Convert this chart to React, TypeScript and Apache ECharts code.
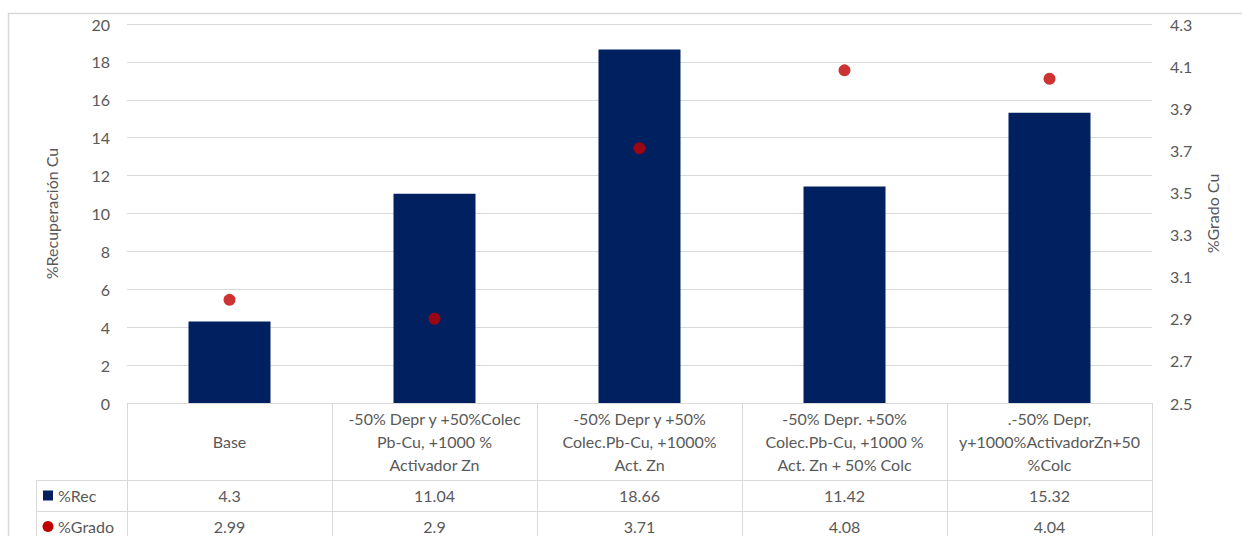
import React, { useEffect, useRef } from "react";
import * as echarts from "echarts";

// Flotation tests: copper recovery (bars) and copper grade (dots)
const categories = [
  "Base",
  "-50% Depr y +50%Colec\nPb-Cu, +1000 %\nActivador Zn",
  "-50% Depr y +50%\nColec.Pb-Cu, +1000%\nAct. Zn",
  "-50% Depr. +50%\nColec.Pb-Cu, +1000 %\nAct. Zn + 50% Colc",
  ".-50% Depr,\ny+1000%ActivadorZn+50\n%Colc",
];
const recValues = [4.3, 11.04, 18.66, 11.42, 15.32];
const gradoValues = [2.99, 2.9, 3.71, 4.08, 4.04];
const recLabels = ["4.3", "11.04", "18.66", "11.42", "15.32"];
const gradoLabels = ["2.99", "2.9", "3.71", "4.08", "4.04"];
const seriesNames = ["%Rec", "%Grado"];

const FONT = "Lato, 'Open Sans', sans-serif";
const TEXT = "#595959";
const LINE = "#d9d9d9";
const NAVY = "#002060";
const RED = "#c00000";

export default function App() {
  const ref = useRef<HTMLDivElement>(null);

  useEffect(() => {
    document.body.style.margin = "0";
    if (!ref.current) return;
    const chart = echarts.init(ref.current, null, { renderer: "svg" });

    chart.setOption({
      animation: false,
      textStyle: { fontFamily: FONT },
      grid: { left: 127, right: 90, top: 24, bottom: 133 },
      xAxis: {
        type: "category",
        data: categories,
        axisLabel: { show: false },
        axisTick: { show: false },
        axisLine: { show: true, lineStyle: { color: LINE, width: 1 } },
      },
      yAxis: [
        {
          type: "value",
          min: 0,
          max: 20,
          interval: 2,
          name: "%Recuperación Cu",
          nameLocation: "middle",
          nameRotate: 90,
          nameGap: 68,
          nameTextStyle: { color: TEXT, fontSize: 16, fontFamily: FONT },
          axisLine: { show: false },
          axisTick: { show: false },
          axisLabel: { color: TEXT, fontSize: 16, margin: 17, fontFamily: FONT },
          splitLine: { lineStyle: { color: LINE, width: 1 } },
        },
        {
          type: "value",
          min: 2.5,
          max: 4.3,
          interval: 0.2,
          position: "right",
          name: "%Grado Cu",
          nameLocation: "middle",
          nameRotate: 90,
          nameGap: 52,
          nameTextStyle: { color: TEXT, fontSize: 16, fontFamily: FONT },
          axisLine: { show: false },
          axisTick: { show: false },
          axisLabel: {
            color: TEXT,
            fontSize: 16,
            margin: 18,
            fontFamily: FONT,
            formatter: (v: number) => v.toFixed(1),
          },
          splitLine: { show: false },
        },
      ],
      series: [
        {
          name: seriesNames[0],
          type: "bar",
          data: recValues,
          barWidth: "40%",
          itemStyle: { color: NAVY },
        },
        {
          name: seriesNames[1],
          type: "scatter",
          yAxisIndex: 1,
          data: gradoValues,
          symbol: "circle",
          symbolSize: 12,
          itemStyle: { color: RED },
        },
      ],
    });

    // Data table below the plot, laid out from the category axis
    const xs = categories.map((_, i) => chart.convertToPixel({ xAxisIndex: 0 }, i) as number);
    const band = xs.length > 1 ? xs[1] - xs[0] : 205;
    const left = xs[0] - band / 2;
    const right = xs[xs.length - 1] + band / 2;
    const top = chart.convertToPixel({ yAxisIndex: 0 }, 0) as number;
    const headerBottom = top + 77;
    const row1Bottom = headerBottom + 31;
    const row2Bottom = row1Bottom + 31;
    const legendLeft = 36;

    const g: any[] = [];
    const hline = (x1: number, x2: number, y: number) =>
      g.push({
        type: "line",
        shape: { x1, y1: y + 0.5, x2, y2: y + 0.5 },
        style: { stroke: LINE, lineWidth: 1 },
        silent: true,
      });
    const vline = (x: number, y1: number, y2: number) =>
      g.push({
        type: "line",
        shape: { x1: Math.round(x) + 0.5, y1, x2: Math.round(x) + 0.5, y2 },
        style: { stroke: LINE, lineWidth: 1 },
        silent: true,
      });
    const cellText = (text: string, x: number, y: number, align = "center") =>
      g.push({
        type: "text",
        x,
        y,
        style: {
          text,
          fill: TEXT,
          font: `16px ${FONT}`,
          align,
          verticalAlign: "middle",
          lineHeight: 23,
        },
        silent: true,
      });

    hline(legendLeft, right, headerBottom);
    hline(legendLeft, right, row1Bottom);
    hline(legendLeft, right, row2Bottom);
    vline(legendLeft, headerBottom, row2Bottom);
    for (let i = 0; i <= categories.length; i++) vline(left + band * i, top, row2Bottom);

    categories.forEach((c, i) => {
      cellText(c, xs[i], (top + headerBottom) / 2);
      cellText(recLabels[i], xs[i], (headerBottom + row1Bottom) / 2);
      cellText(gradoLabels[i], xs[i], (row1Bottom + row2Bottom) / 2);
    });

    // Legend keys of the table rows
    const r1 = (headerBottom + row1Bottom) / 2;
    const r2 = (row1Bottom + row2Bottom) / 2;
    g.push({
      type: "rect",
      shape: { x: 43, y: r1 - 5, width: 10, height: 10 },
      style: { fill: NAVY },
      silent: true,
    });
    g.push({
      type: "circle",
      shape: { cx: 48, cy: r2, r: 5.5 },
      style: { fill: RED },
      silent: true,
    });
    cellText(seriesNames[0], 58, r1, "left");
    cellText(seriesNames[1], 58, r2, "left");

    // Chart area border
    g.push({
      type: "rect",
      shape: { x: 8.5, y: 13.5, width: 1300, height: 700 },
      style: { fill: "none", stroke: LINE, lineWidth: 1.5 },
      silent: true,
      z: -1,
    });

    chart.setOption({ graphic: g });

    return () => chart.dispose();
  }, []);

  return <div ref={ref} style={{ width: 1242, height: 536 }} />;
}
